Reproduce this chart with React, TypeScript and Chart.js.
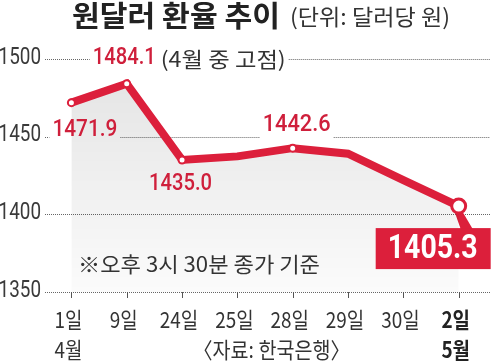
import React, { useEffect, useRef } from "react";
import { Chart, registerables } from "chart.js";

Chart.register(...registerables);

// ---- data ----
const dayLabels = ["1일", "9일", "24일", "25일", "28일", "29일", "30일", "2일"];
const monthLabels = ["4월", "", "", "", "", "", "", "5월"];
const rates = [1471.9, 1484.1, 1435.0, 1437.3, 1442.6, 1439.0, 1422.0, 1405.3];
const yTicks = [1350, 1400, 1450, 1500];
const markedPoints = [0, 1, 2, 4, 7];
const peakNote = "(4월 중 고점)";
const titleText = "원달러 환율 추이";
const unitText = "(단위: 달러당 원)";
const footNote = "※오후 3시 30분 종가 기준";
const sourceText = "〈자료: 한국은행〉";

const RED = "#dc1f3b";
const TEXTRED = "#cf1f3b";
const DARK = "#333333";
const KR = '"Noto Sans CJK KR", "Noto Sans", sans-serif';
const NUM = 'Roboto, "Liberation Sans", sans-serif';

function fitText(ctx: CanvasRenderingContext2D, s: string, x0: number, x1: number, y: number, font: string, color: string) {
  ctx.save();
  ctx.font = font;
  ctx.fillStyle = color;
  ctx.textAlign = "left";
  ctx.textBaseline = "middle";
  const w = ctx.measureText(s).width;
  const sx = (x1 - x0) / w;
  ctx.translate(x0, y);
  ctx.scale(sx, 1);
  ctx.fillText(s, 0, 0);
  ctx.restore();
}

function txt(ctx: CanvasRenderingContext2D, s: string, x: number, y: number, font: string, color: string, align: CanvasTextAlign, sx = 1) {
  ctx.save();
  ctx.font = font;
  ctx.fillStyle = color;
  ctx.textAlign = align;
  ctx.textBaseline = "middle";
  ctx.translate(x, y);
  ctx.scale(sx, 1);
  ctx.fillText(s, 0, 0);
  ctx.restore();
}

// label layout relative to the point pixel (style only)
const labelLayout: Record<number, { dx0: number; dx1: number; dy: number }> = {
  0: { dx0: -19, dx1: 46, dy: 28 },
  1: { dx0: -34, dx1: 29, dy: -25 },
  2: { dx0: -33, dx1: 30, dy: 24 },
  4: { dx0: -30, dx1: 38, dy: -22.5 },
};

function labelBoxes(chart: any) {
  const meta = chart.getDatasetMeta(0);
  const boxes: { text: string; x0: number; x1: number; y: number; font: string; color: string }[] = [];
  Object.keys(labelLayout).forEach((k) => {
    const i = Number(k);
    const el = meta.data[i];
    const L = labelLayout[i];
    boxes.push({ text: rates[i].toFixed(1), x0: el.x + L.dx0, x1: el.x + L.dx1, y: el.y + L.dy, font: `500 23px ${NUM}`, color: TEXTRED });
    if (i === 1) {
      boxes.push({ text: peakNote, x0: el.x + 34, x1: el.x + 159, y: el.y + L.dy, font: `21px ${KR}`, color: DARK });
    }
  });
  return boxes;
}

const drawPlugin = {
  id: "customDraw",
  beforeDatasetsDraw(chart: any) {
    const ctx = chart.ctx as CanvasRenderingContext2D;
    const ys = chart.scales.y;
    const xs = chart.scales.x;
    const area = chart.chartArea;
    const boxes = labelBoxes(chart);
    // gridlines with gaps under labels
    ctx.save();
    ctx.strokeStyle = "#666";
    ctx.lineWidth = 1;
    ctx.setLineDash([1, 1]);
    yTicks.forEach((t) => {
      const y = Math.round(ys.getPixelForValue(t)) + 0.5;
      const gaps = boxes.filter((b) => Math.abs(b.y - y) < 12).map((b) => [b.x0 - 3, b.x1 + 3]).sort((a, b) => a[0] - b[0]);
      let start = area.left;
      const segs: number[][] = [];
      gaps.forEach((g) => {
        if (g[0] > start) segs.push([start, g[0]]);
        start = Math.max(start, g[1]);
      });
      if (start < area.right) segs.push([start, area.right]);
      segs.forEach((s) => {
        ctx.beginPath();
        ctx.moveTo(s[0], y);
        ctx.lineTo(s[1], y);
        ctx.stroke();
      });
    });
    ctx.restore();
    // x tick marks
    ctx.save();
    ctx.strokeStyle = "#555";
    ctx.lineWidth = 1;
    dayLabels.forEach((_, i) => {
      const x = Math.round(xs.getPixelForValue(i)) + 0.5;
      ctx.beginPath();
      ctx.moveTo(x, area.bottom);
      ctx.lineTo(x, area.bottom + 6);
      ctx.stroke();
    });
    ctx.restore();
    // connector from last point to box
    const meta = chart.getDatasetMeta(0);
    const last = meta.data[rates.length - 1];
    ctx.save();
    ctx.fillStyle = RED;
    ctx.beginPath();
    ctx.moveTo(last.x - 4, last.y + 6);
    ctx.lineTo(last.x + 4, last.y + 6);
    ctx.lineTo(last.x + 14, last.y + 23);
    ctx.lineTo(last.x + 2, last.y + 23);
    ctx.closePath();
    ctx.fill();
    ctx.restore();
  },
  afterDatasetsDraw(chart: any) {
    const ctx = chart.ctx as CanvasRenderingContext2D;
    const ys = chart.scales.y;
    const xs = chart.scales.x;
    const area = chart.chartArea;
    // y tick labels
    yTicks.forEach((t) => {
      txt(ctx, String(t), 41, ys.getPixelForValue(t) - 1, `23px ${NUM}`, "#3a3a3a", "right", 0.82);
    });
    // data labels
    labelBoxes(chart).forEach((b) => fitText(ctx, b.text, b.x0, b.x1, b.y, b.font, b.color));
    // last value box
    const meta = chart.getDatasetMeta(0);
    const last = meta.data[rates.length - 1];
    const bx0 = last.x - 83, bx1 = last.x + 32, by0 = last.y + 22, by1 = last.y + 63;
    ctx.save();
    ctx.fillStyle = RED;
    ctx.fillRect(bx0, by0, bx1 - bx0, by1 - by0);
    ctx.restore();
    fitText(ctx, rates[rates.length - 1].toFixed(1), bx0 + 12, bx0 + 102, (by0 + by1) / 2 + 1, `bold 33px ${NUM}`, "#ffffff");
    // x labels
    dayLabels.forEach((d, i) => {
      const x = xs.getPixelForValue(i) - 3;
      const bold = i === dayLabels.length - 1;
      txt(ctx, d, x, area.bottom + 28, `${bold ? "bold " : ""}22px ${KR}`, bold ? "#222" : DARK, "center", 0.86);
      if (monthLabels[i]) {
        txt(ctx, monthLabels[i], x, area.bottom + 58, `${bold ? "bold " : ""}22px ${KR}`, bold ? "#222" : DARK, "center", 0.86);
      }
    });
    fitText(ctx, sourceText, 193, 350, area.bottom + 58, `22px ${KR}`, DARK);
    fitText(ctx, footNote, 78, 320, 264, `21px ${KR}`, DARK);
    // title
    fitText(ctx, titleText, 72, 280, 16, `bold 29px ${KR}`, "#222");
    fitText(ctx, unitText, 290, 450, 17, `22px ${KR}`, DARK);
  },
};

export default function App() {
  const ref = useRef<HTMLCanvasElement | null>(null);
  useEffect(() => {
    if (!ref.current) return;
    const n = rates.length;
    const chart = new Chart(ref.current, {
      type: "line",
      data: {
        datasets: [
          {
            data: rates.map((v, i) => ({ x: i, y: v })),
            borderColor: RED,
            borderWidth: 8,
            borderJoinStyle: "miter",
            fill: "start",
            backgroundColor: (c: any) => {
              const { ctx, chartArea } = c.chart;
              if (!chartArea) return "rgba(0,0,0,0.06)";
              const g = ctx.createLinearGradient(0, chartArea.top + 20, 0, chartArea.bottom);
              g.addColorStop(0, "rgba(0,0,0,0.1)");
              g.addColorStop(1, "rgba(0,0,0,0.015)");
              return g;
            },
            pointRadius: (c: any) => (markedPoints.includes(c.dataIndex) ? (c.dataIndex === n - 1 ? 7 : 3.5) : 0),
            pointBorderWidth: (c: any) => (c.dataIndex === n - 1 ? 3 : 2),
            pointBackgroundColor: "#ffffff",
            pointBorderColor: RED,
            tension: 0,
            clip: false as any,
          } as any,
        ],
      },
      options: {
        animation: false,
        responsive: false,
        devicePixelRatio: 1,
        events: [],
        layout: { padding: { left: 45, right: 0, top: 59, bottom: 71 } },
        scales: {
          x: { type: "linear", min: -0.477, max: 7.566, display: false },
          y: { min: 1350, max: 1500, display: false },
        },
        plugins: { legend: { display: false }, tooltip: { enabled: false } },
      },
      plugins: [drawPlugin],
    });
    return () => chart.destroy();
  }, []);
  return (
    <div style={{ position: "fixed", left: 0, top: 0, width: 500, height: 363, background: "#fff" }}>
      <canvas ref={ref} width={500} height={363} style={{ display: "block" }} />
    </div>
  );
}
